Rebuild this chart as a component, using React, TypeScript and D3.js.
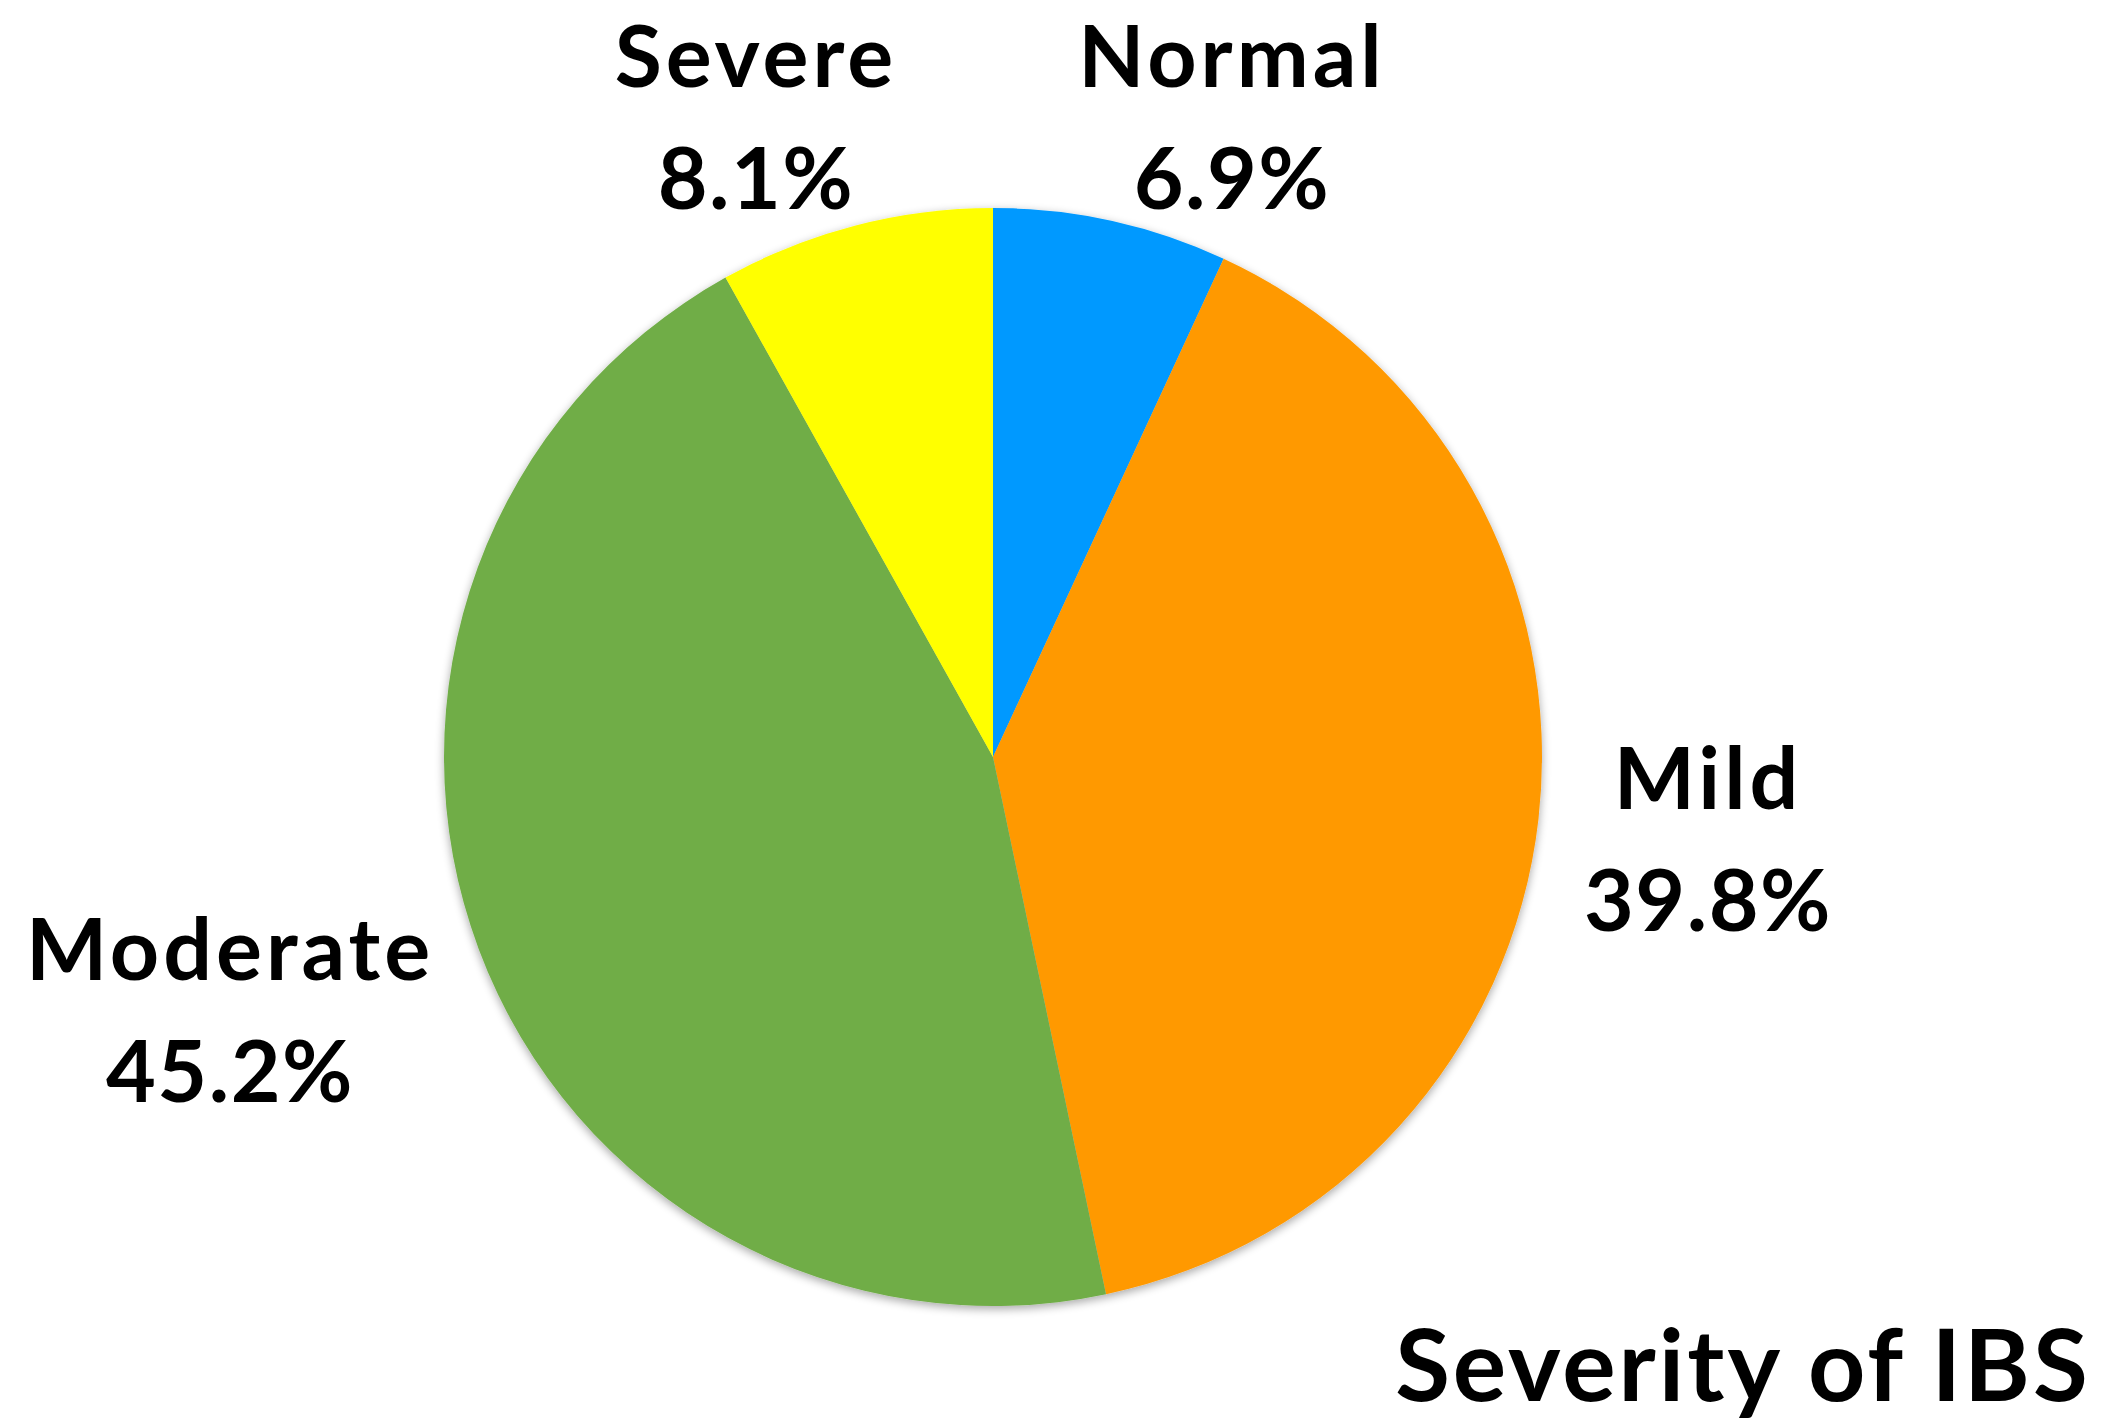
import React from "react";
import * as d3 from "d3";

const categories = ["Normal", "Mild", "Moderate", "Severe"];
const values = [6.9, 39.8, 45.2, 8.1];
const colors = ["#0099FF", "#FF9900", "#70AD47", "#FFFF00"];
const title = "Severity of IBS";

const W = 2104;
const H = 1426;
const cx = 993;
const cy = 757;
const R = 549;

// label anchor positions (center x, first baseline y)
const labelPos: Record<string, [number, number]> = {
  Normal: [1232, 87],
  Mild: [1708, 809],
  Moderate: [230, 980],
  Severe: [756, 87],
};

export default function App() {
  const pie = d3.pie<number>().sort(null).value((d) => d)(values);
  const arc = d3.arc<d3.PieArcDatum<number>>().innerRadius(0).outerRadius(R);
  const font = "Lato, 'Open Sans', sans-serif";
  return (
    <svg
      width={W}
      height={H}
      style={{ position: "absolute", left: 0, top: 0, background: "#fff" }}
    >
      <defs>
        <filter id="sh" x="-10%" y="-10%" width="120%" height="120%">
          <feGaussianBlur in="SourceAlpha" stdDeviation="5" />
          <feOffset dx="0" dy="3" result="b" />
          <feComponentTransfer>
            <feFuncA type="linear" slope="0.35" />
          </feComponentTransfer>
          <feMerge>
            <feMergeNode />
            <feMergeNode in="SourceGraphic" />
          </feMerge>
        </filter>
      </defs>
      <rect width={W} height={H} fill="#fff" />
      <g transform={`translate(${cx},${cy})`} filter="url(#sh)">
        {pie.map((p, i) => (
          <path key={categories[i]} d={arc(p) || ""} fill={colors[i]} />
        ))}
      </g>
      {categories.map((c, i) => {
        const [x, y] = labelPos[c];
        return (
          <text
            key={c}
            textAnchor="middle"
            fontFamily={font}
            fontWeight="bold"
            fontSize={86}
            fill="#000"
          >
            <tspan x={x} y={y} letterSpacing={4}>{c}</tspan>
            <tspan x={x} y={y + 122} letterSpacing={1.5}>
              {values[i].toFixed(1)}%
            </tspan>
          </text>
        );
      })}
      <text
        x={1743}
        y={1401}
        textAnchor="middle"
        fontFamily={font}
        fontWeight="bold"
        fontSize={100}
        letterSpacing={3}
        fill="#000"
      >
        {title}
      </text>
    </svg>
  );
}
